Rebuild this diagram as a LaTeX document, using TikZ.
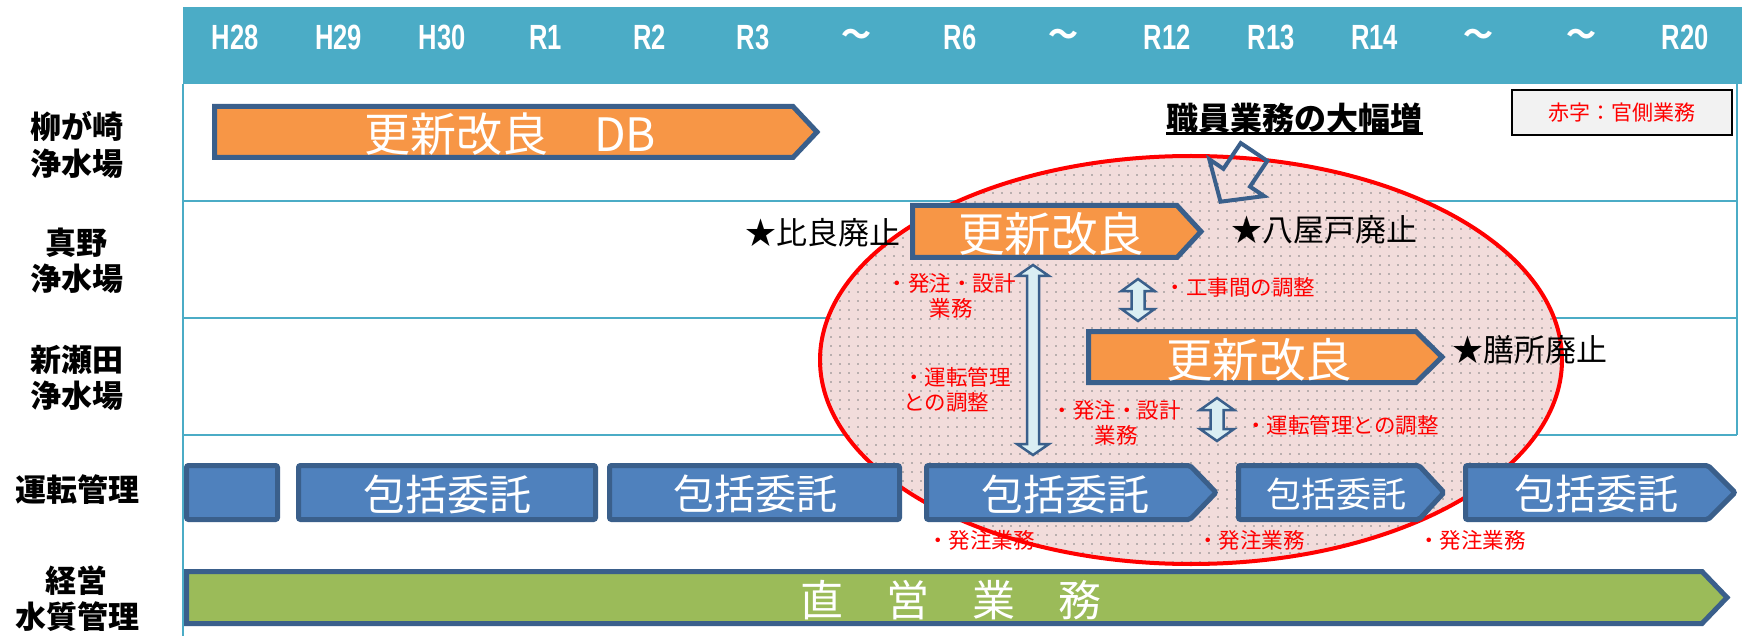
\documentclass[tikz,border=0pt]{standalone}
\usepackage{fontspec}
\newfontfamily\jp{Noto Sans CJK JP}
\newfontfamily\yr[FakeStretch=0.73]{Liberation Sans}
\definecolor{tealc}{HTML}{4BACC6}
\definecolor{orangec}{HTML}{F79646}
\definecolor{bluec}{HTML}{4F81BD}
\definecolor{bordc}{HTML}{3A5F8B}
\definecolor{greenc}{HTML}{9BBB59}
\definecolor{pinkc}{HTML}{F2DCDB}
\definecolor{lightbc}{HTML}{DAEEF3}
\definecolor{legfill}{HTML}{F2F2F2}
\definecolor{dotc}{HTML}{808080}
\newcommand\pentbar[6]{\path[#1] (#2,#3) -- ({#4-#6},#3) -- (#4,{(#3+#5)/2}) -- ({#4-#6},#5) -- (#2,#5) -- cycle;}
\newcommand\dbarrow[6]{\path[dblarr] (#1,#2) -- ({#1+#5},{#2+#6}) -- ({#1+#4},{#2+#6}) -- ({#1+#4},{#3-#6}) -- ({#1+#5},{#3-#6}) -- (#1,#3) -- ({#1-#5},{#3-#6}) -- ({#1-#4},{#3-#6}) -- ({#1-#4},{#2+#6}) -- ({#1-#5},{#2+#6}) -- cycle;}
\tikzset{
  tline/.style={draw=tealc, line width=2pt},
  obar/.style={fill=orangec, draw=bordc, line width=5pt, line join=miter},
  bbar/.style={fill=bluec, draw=bordc, line width=5pt, rounded corners=2pt},
  gbar/.style={fill=greenc, draw=bordc, line width=5pt, line join=miter},
  dblarr/.style={fill=lightbc, draw=bordc, line width=2.5pt, line join=miter},
  bartxt/.style={text=white, inner sep=0pt},
  yeartxt/.style={text=white, inner sep=0pt, font=\yr\bfseries\fontsize{35}{35}\selectfont},
  rowlab/.style={align=center, inner sep=0pt, font=\jp\bfseries\fontsize{31}{36.5}\selectfont},
  redlab/.style={text=red, inner sep=0pt, font=\jp\fontsize{21.5}{25}\selectfont},
  starlab/.style={inner sep=0pt, font=\jp\fontsize{31}{31}\selectfont},
}
\begin{document}
\begin{tikzpicture}[x=1pt,y=-1pt]
\useasboundingbox (0,0) rectangle (1742,636);
\fill[white] (0,0) rectangle (1742,636);
% header
\fill[tealc] (183,7) rectangle (1742,84);
\foreach \lab [count=\i from 0] in {H28,H29,H30,R1,R2,R3,{\jp\bfseries\fontsize{30}{30}\selectfont ～},R6,{\jp\bfseries\fontsize{30}{30}\selectfont ～},R12,R13,R14,{\jp\bfseries\fontsize{30}{30}\selectfont ～},{\jp\bfseries\fontsize{30}{30}\selectfont ～},R20}
  \node[yeartxt] (yr\i) at ({235+103.6*\i},37.5) {\lab};
% table lines
\draw[tline] (183,84) -- (183,636);
\draw[tline] (1737,84) -- (1737,435);
\draw[tline] (183,201) -- (1737,201);
\draw[tline] (183,318) -- (1737,318);
\draw[tline] (183,435) -- (1737,435);
% row labels
\node[rowlab] (lab1) at (77,145) {柳が崎\\浄水場};
\node[rowlab] (lab2) at (77,261) {真野\\浄水場};
\node[rowlab] (lab3) at (77,378) {新瀬田\\浄水場};
\node[rowlab] (lab4) at (77,490) {運転管理};
\node[rowlab] (lab5) at (77,598.5) {経営\\水質管理};
% ellipse with dot pattern
\fill[pinkc] (1191,360) ellipse [x radius=371, y radius=204];
\begin{scope}
  \clip (1191,360) ellipse [x radius=369, y radius=202];
  \foreach \px in {0,...,83} {
    \foreach \py in {0,...,46} {
      \fill[dotc] ({822+9*\px},{157+9*\py}) circle [radius=0.9];
    }
  }
\end{scope}
\draw[red, line width=4pt] (1191,360) ellipse [x radius=371, y radius=204];
% orange bars
\pentbar{obar}{214.5}{106.5}{817}{157.5}{24}
\pentbar{obar}{912.5}{205.5}{1201}{257.5}{24}
\pentbar{obar}{1088.5}{331.5}{1442}{382.5}{26}
\node[bartxt, font=\jp\fontsize{46}{46}\selectfont] (db) at (510,134) {更新改良　DB};
\node[bartxt, font=\jp\fontsize{46.5}{46.5}\selectfont] (kai1) at (1051,234) {更新改良};
\node[bartxt, font=\jp\fontsize{46.5}{46.5}\selectfont] (kai2) at (1259,360) {更新改良};
% blue bars
\path[bbar] (186.5,465.5) rectangle (277.5,519.5);
\path[bbar] (298.5,465.5) rectangle (595.5,519.5);
\path[bbar] (609.5,465.5) rectangle (899.5,519.5);
\pentbar{bbar}{926.5}{465.5}{1216}{519.5}{26}
\pentbar{bbar}{1238.5}{465.5}{1444}{519.5}{25}
\pentbar{bbar}{1465.5}{465.5}{1735}{519.5}{27}
\node[bartxt, font=\jp\fontsize{42}{42}\selectfont] (ip1) at (447,494) {包括委託};
\node[bartxt, font=\jp\fontsize{41}{41}\selectfont] (ip2) at (755,494) {包括委託};
\node[bartxt, font=\jp\fontsize{42}{42}\selectfont] (ip3) at (1065,494) {包括委託};
\node[bartxt, font=\jp\fontsize{35}{35}\selectfont] (ip4) at (1336,494) {包括委託};
\node[bartxt, font=\jp\fontsize{41}{41}\selectfont] (ip5) at (1596,494) {包括委託};
% green bar
\pentbar{gbar}{186.5}{571.5}{1727}{623.5}{25}
\node[bartxt, font=\jp\fontsize{43}{43}\selectfont] (choku) at (951,600) {直　営　業　務};
% double arrows
\dbarrow{1033}{265}{455}{6}{16}{11}
\dbarrow{1138}{279}{321}{6.5}{16.5}{12}
\dbarrow{1217}{398}{441}{6.5}{17}{12}
% callout arrow
\draw[line width=4pt, draw=bordc, line join=miter] (1240.7,143.1) -- (1267.3,160.9) -- (1250.0,186.6) -- (1264.1,196.1) -- (1220.5,201.7) -- (1209.3,159.3) -- (1223.4,168.8) -- cycle;
\node[inner sep=0pt, font=\jp\bfseries\fontsize{32}{32}\selectfont] (ttl) at (1294.5,118) {職員業務の大幅増};
\draw[line width=2.5pt] (ttl.south west) -- (ttl.south east);
% legend
\draw[fill=legfill, line width=2pt] (1512,90) rectangle (1732,135);
\node[text=red, inner sep=0pt, font=\jp\fontsize{21}{21}\selectfont] (leg) at (1622,113) {赤字：官側業務};
% star labels
\node[starlab] (hira) at (823,233) {★比良廃止};
\node[starlab] (yato) at (1324,230) {★八屋戸廃止};
\node[starlab] (zeze) at (1530,350) {★膳所廃止};
% red labels
\node[redlab, align=center] (r1) at (951,295.5) {・発注・設計\\業務};
\node[redlab, align=left, anchor=west] (r2) at (903,389.5) {・運転管理\\との調整};
\node[redlab] (r3) at (1240,287) {・工事間の調整};
\node[redlab, align=center] (r4) at (1116,422.5) {・発注・設計\\業務};
\node[redlab] (r5) at (1342,425) {・運転管理との調整};
\node[redlab] (r6) at (981,540) {・発注業務};
\node[redlab] (r7) at (1251,540) {・発注業務};
\node[redlab] (r8) at (1472,540) {・発注業務};
\end{tikzpicture}
\end{document}
